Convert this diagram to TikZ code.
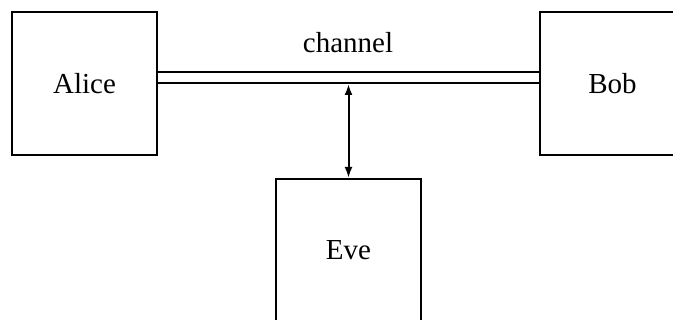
\documentclass[tikz,border=0pt]{standalone}
\usepackage{fontspec}
\setmainfont{Liberation Serif}
\usetikzlibrary{arrows.meta}
\begin{document}
\begin{tikzpicture}[x=1pt,y=-1pt,
  party/.style={draw, line width=2.3pt, minimum width=145pt, minimum height=143pt, inner sep=0pt, font=\fontsize{29}{34}\selectfont},
  chan/.style={double, line width=1.8pt, double distance=9.2pt},
  tap/.style={line width=2pt, {Latex[length=11pt,width=8pt]}-{Latex[length=11pt,width=8pt]}}]
\useasboundingbox (0,0) rectangle (673,320);
\clip (0,0) rectangle (673,320);
\node[party] (alice) at (84.5,83.5) {Alice};
\node[party] (bob) at (612.5,83.5) {Bob};
\node[party] (eve) at (348.5,250.5) {Eve};
\coordinate (cl) at (157,77.5);
\coordinate (cr) at (540,77.5);
\draw[chan] (alice.east |- cl) -- (bob.west |- cr);
\coordinate (cb) at (348.5,84);
\draw[tap] (cb) -- (eve.north);
\node[anchor=base, font=\fontsize{29}{34}\selectfont] (lbl) at (348,53) {channel};
\end{tikzpicture}
\end{document}
